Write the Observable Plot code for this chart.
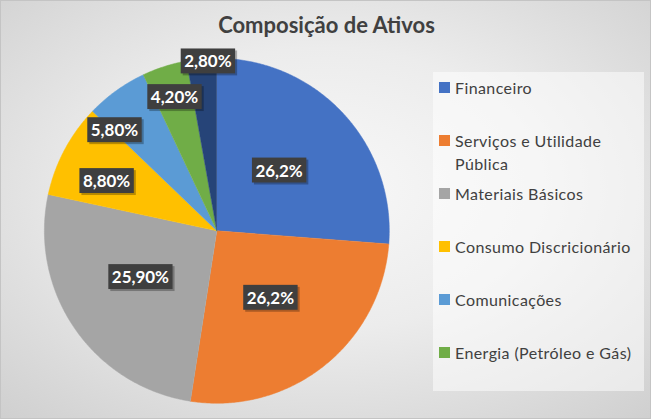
<!DOCTYPE html>
<html>
<head>
<meta charset="utf-8">
<script src="https://cdn.jsdelivr.net/npm/d3@7"></script>
<script src="https://cdn.jsdelivr.net/npm/@observablehq/plot@0.6"></script>
<style>
  html, body { margin: 0; padding: 0; background: #fff; }
  #chart {
    position: relative; width: 651px; height: 419px; overflow: hidden;
    box-sizing: border-box; border: 1px solid #c4c4c4;
    background: radial-gradient(ellipse 75% 75% at 50% 45%, #f8f8f8 0%, #ececec 45%, #cfcfcf 100%);
    font-family: Lato, "Open Sans", sans-serif;
  }
  #chart svg { position: absolute; left: 0; top: 0; }
  #title {
    position: absolute; left: 0; width: 651px; top: 10px; text-align: center;
    font-size: 22px; font-weight: bold; color: #404040; line-height: 28px;
  }
  #legendbox {
    position: absolute; left: 432px; top: 71px; width: 211px; height: 319px;
    background: rgba(255,255,255,0.5);
  }
  #legend {
    position: absolute; left: 438px; top: 74.5px; width: 205px;
    display: grid; grid-template-rows: repeat(6, 53px);
    font-size: 16px; letter-spacing: 0.4px; color: #404040; line-height: 23px;
  }
  .item { display: flex; align-items: flex-start; }
  .sw { width: 11px; height: 11px; margin-top: 6px; margin-right: 5px; flex: none; }
</style>
</head>
<body>
<div id="chart">
  <div id="legendbox"></div>
  <div id="title"></div>
  <div id="legend"></div>
</div>
<script>
// ---- data ----
const titleText = "Composição de Ativos";
const categories = [
  "Financeiro",
  "Serviços e Utilidade Pública",
  "Materiais Básicos",
  "Consumo Discricionário",
  "Comunicações",
  "Energia (Petróleo e Gás)",
  "Outros"
];
const values = [26.2, 26.2, 25.9, 8.8, 5.8, 4.2, 2.8];
const valueLabels = ["26,2%", "26,2%", "25,90%", "8,80%", "5,80%", "4,20%", "2,80%"];
const colors = ["#4472C4", "#ED7D31", "#A5A5A5", "#FFC000", "#5B9BD5", "#70AD47", "#264478"];
const legendCount = 6; // the legend lists the first six categories

// ---- layout (label placement, fraction of radius / angle shift in degrees) ----
const labelRadius = [0.50, 0.50, 0.52, 0.70, 0.83, 0.81, 0.98];
const labelShift = [-1, 0, 3, -4, -10, 0, 2];

const W = 651, H = 419;
const cx = 216, cy = 230, R = 173;

const arcs = d3.pie().sort(null).value(d => d)(values);

// polygon points of each slice, in unit-circle data space
const pts = [];
arcs.forEach((a, i) => {
  const cat = categories[i];
  pts.push({cat, x: 0, y: 0});
  const n = Math.max(2, Math.ceil((a.endAngle - a.startAngle) / (Math.PI / 360)));
  for (let k = 0; k <= n; k++) {
    const t = a.startAngle + (a.endAngle - a.startAngle) * k / n;
    pts.push({cat, x: Math.sin(t), y: Math.cos(t)});
  }
});

const lbl = arcs.map((a, i) => {
  const t = (a.startAngle + a.endAngle) / 2 + labelShift[i] * Math.PI / 180;
  return {cat: categories[i], text: valueLabels[i], x: labelRadius[i] * Math.sin(t), y: labelRadius[i] * Math.cos(t)};
});

const chart = Plot.plot({
  width: W, height: H,
  marginLeft: cx - R, marginRight: W - (cx + R),
  marginTop: cy - R, marginBottom: H - (cy + R),
  x: {domain: [-1, 1], axis: null},
  y: {domain: [-1, 1], axis: null},
  color: {domain: categories, range: colors},
  style: {background: "transparent", overflow: "visible"},
  marks: [
    Plot.line(pts, {x: "x", y: "y", z: "cat", fill: "cat", stroke: "cat", strokeWidth: 0.5, curve: "linear"}),
    Plot.text(lbl, {x: "x", y: "y", text: "text", fill: "white", fontWeight: "bold", fontSize: 17, fontFamily: "Lato, 'Open Sans', sans-serif"})
  ]
});

const root = document.getElementById("chart");
root.insertBefore(chart, root.firstChild);
document.getElementById("title").textContent = titleText;

// boxes behind data labels
const ns = "http://www.w3.org/2000/svg";
chart.querySelectorAll('g[aria-label="text"] text').forEach(t => {
  const b = t.getBBox();
  const bw = b.width + 7, bh = 25;
  const mx = b.x + b.width / 2, my = b.y + b.height / 2;
  const tr = t.getAttribute("transform");
  const sh = document.createElementNS(ns, "rect");
  sh.setAttribute("x", mx - bw / 2 + 2); sh.setAttribute("y", my - bh / 2 + 2);
  sh.setAttribute("width", bw); sh.setAttribute("height", bh);
  sh.setAttribute("fill", "rgba(0,0,0,0.28)");
  const r = document.createElementNS(ns, "rect");
  r.setAttribute("x", mx - bw / 2); r.setAttribute("y", my - bh / 2);
  r.setAttribute("width", bw); r.setAttribute("height", bh);
  r.setAttribute("fill", "#3f3f3f");
  if (tr) { sh.setAttribute("transform", tr); r.setAttribute("transform", tr); }
  t.parentNode.insertBefore(sh, t);
  t.parentNode.insertBefore(r, t);
});

// legend
const lg = document.getElementById("legend");
categories.slice(0, legendCount).forEach((c, i) => {
  const it = document.createElement("div");
  it.className = "item";
  const sw = document.createElement("span");
  sw.className = "sw";
  sw.style.background = colors[i];
  const tx = document.createElement("span");
  tx.textContent = c;
  it.appendChild(sw); it.appendChild(tx);
  lg.appendChild(it);
});
</script>
</body>
</html>
